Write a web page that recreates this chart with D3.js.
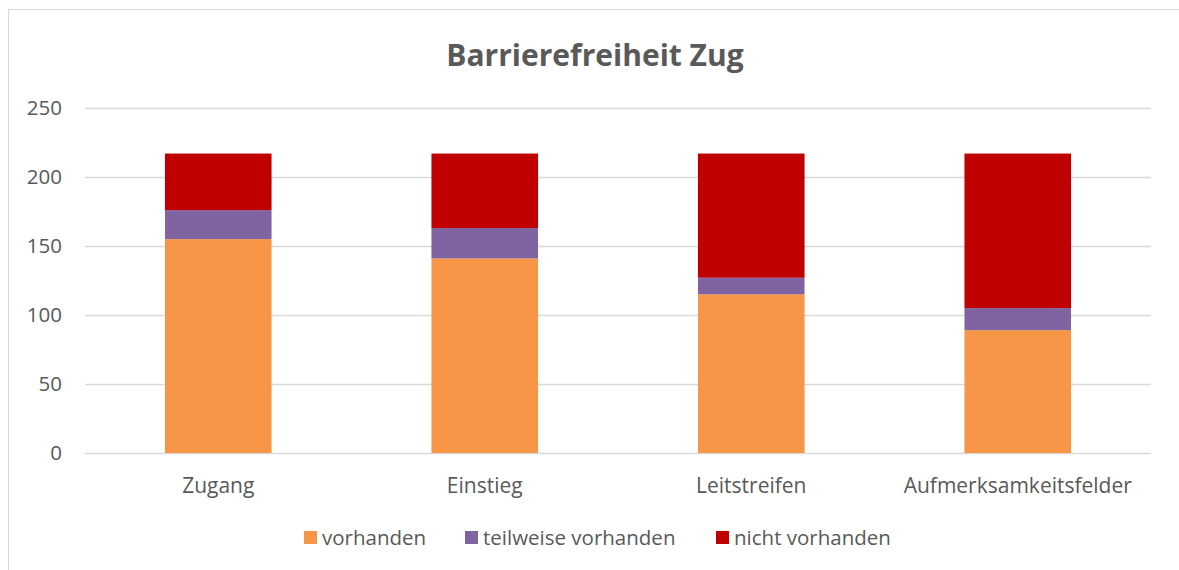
<!DOCTYPE html>
<html><head><meta charset="utf-8">
<script src="https://cdn.jsdelivr.net/npm/d3@7"></script>
<style>body{margin:0;background:#fff}svg{display:block}text{font-family:"Open Sans","Noto Sans",sans-serif}</style>
</head><body>
<script>
const categories = ["Zugang","Einstieg","Leitstreifen","Aufmerksamkeitsfelder"];
const seriesNames = ["vorhanden","teilweise vorhanden","nicht vorhanden"];
const vorhanden = [155,141,115,89];
const teilweise = [21,22,12,16];
const nicht = [41,54,90,112];
const yTicks = [0,50,100,150,200,250];
const colors = ["#F79646","#8064A2","#C00000"];

(function(){
const W=1179,H=570;
const FF="'Open Sans','Noto Sans',sans-serif";
const svg=d3.select("body").append("svg").attr("width",W).attr("height",H);
svg.append("rect").attr("x",8.5).attr("y",9.5).attr("width",1200).attr("height",600).attr("fill","#fff").attr("stroke","#d9d9d9");

const pL=85,pR=1151,pT=108,pB=453;
const x=d3.scaleBand().domain(categories).range([pL,pR]).padding(0);
const y=d3.scaleLinear().domain([0,250]).range([pB,pT]);

svg.append("text").attr("x",595).attr("y",66).attr("text-anchor","middle").attr("font-size",30).attr("font-weight","bold").attr("fill","#595959").text("Barrierefreiheit Zug");

const yAxis=svg.append("g").attr("transform",`translate(${pL},0)`).call(d3.axisLeft(y).tickValues(yTicks).tickSize(-(pR-pL)).tickPadding(23));
yAxis.select(".domain").remove();
yAxis.selectAll("line").attr("stroke","#d9d9d9").attr("stroke-width",1.5);
yAxis.selectAll("text").attr("font-size",20.5).attr("fill","#595959").attr("font-family",FF);

const data=categories.map((c,i)=>({cat:c,vorhanden:vorhanden[i],teilweise:teilweise[i],nicht:nicht[i]}));
const stack=d3.stack().keys(["vorhanden","teilweise","nicht"])(data);
const bw=x.bandwidth()*0.4;
svg.append("g").selectAll("g").data(stack).join("g").attr("fill",(d,i)=>colors[i])
 .selectAll("rect").data(d=>d).join("rect")
 .attr("x",d=>x(d.data.cat)+x.bandwidth()/2-bw/2).attr("width",bw)
 .attr("y",d=>y(d[1])).attr("height",d=>y(d[0])-y(d[1]));

const xAxis=svg.append("g").attr("transform",`translate(0,${pB})`).call(d3.axisBottom(x).tickSize(0).tickPadding(25));
xAxis.select(".domain").remove();
xAxis.selectAll("text").attr("font-size",21).attr("fill","#595959").attr("font-family",FF);

const legX=[304,465,716];
const leg=svg.append("g").selectAll("g").data(seriesNames).join("g").attr("transform",(d,i)=>`translate(${legX[i]},0)`);
leg.append("rect").attr("x",0).attr("y",531).attr("width",13).attr("height",13).attr("fill",(d,i)=>colors[i]);
leg.append("text").attr("x",18).attr("y",545).attr("font-size",20.5).attr("fill","#595959").text(d=>d);
})();
</script>
</body></html>
